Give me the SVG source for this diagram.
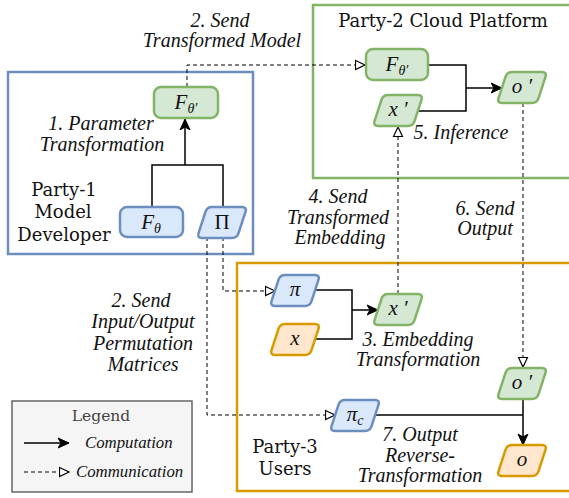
<svg xmlns="http://www.w3.org/2000/svg" xmlns:xlink="http://www.w3.org/1999/xlink" width="569" height="498" viewBox="0 0 569 498">
<style>
.title{font-family:"DejaVu Serif","Liberation Serif",serif;font-size:18px;fill:#111;text-anchor:middle}
.lbl{font-family:"Liberation Serif",serif;font-size:20px;font-style:italic;fill:#111;text-anchor:middle}
.math{font-family:"Liberation Serif",serif;font-size:21px;font-style:italic;fill:#111;text-anchor:middle}
.sub{font-size:14px}
.blue{fill:#dae8fc;stroke:#6c8ebf;stroke-width:2.5}
.green{fill:#d5e8d4;stroke:#82b366;stroke-width:2.5}
.orange{fill:#ffe6cc;stroke:#d79b00;stroke-width:2.5}
.solid{fill:none;stroke:#000;stroke-width:1.5}
.dash{fill:none;stroke:#000;stroke-width:1;stroke-dasharray:4 3}
.legtxt{font-family:"Liberation Serif",serif;font-size:16.8px;font-style:italic;fill:#111}
</style>
<defs>
<path id="para" d="M15,0 L45,0 Q50,0 48.46,4.76 L41.54,26.24 Q40,31 35,31 L5,31 Q0,31 1.54,26.24 L8.46,4.76 Q10,0 15,0 Z"/>
<marker id="arr" markerUnits="userSpaceOnUse" markerWidth="12" markerHeight="12" refX="11" refY="6" orient="auto" viewBox="0 0 12 12">
<path d="M0,1 L11,6 L0,11 L3,6 Z" fill="#000" stroke="#000" stroke-width="1"/>
</marker>
<marker id="open" markerUnits="userSpaceOnUse" markerWidth="12" markerHeight="12" refX="10.5" refY="6" orient="auto" viewBox="0 0 12 12">
<path d="M1,1.5 L10.5,6 L1,10.5 Z" fill="#fff" stroke="#000" stroke-width="1.2"/>
</marker>
</defs>
<rect width="569" height="498" fill="#fff"/>

<!-- containers -->
<g id="party1">
<rect x="8" y="72" width="245" height="182" fill="none" stroke="#6c8ebf" stroke-width="2.5"/>
<text class="title" x="64" y="196">Party-1</text>
<text class="title" x="63" y="218">Model</text>
<text class="title" x="64" y="241">Developer</text>
</g>
<g id="party2">
<rect x="313" y="5" width="262" height="173" fill="none" stroke="#82b366" stroke-width="2.5"/>
<text class="title" x="443" y="27">Party-2 Cloud Platform</text>
</g>
<g id="party3">
<rect x="237" y="263" width="340" height="228" fill="none" stroke="#d79b00" stroke-width="2.5"/>
<text class="title" x="285" y="453">Party-3</text>
<text class="title" x="285" y="475">Users</text>
</g>

<!-- connectors -->
<g id="connectors">
<path class="solid" d="M152,207 V165 H223 V207"/>
<path class="solid" d="M185,165 V119" marker-end="url(#arr)"/>
<path class="dash" d="M187,87 V65 H365" marker-end="url(#open)"/>
<path class="solid" d="M428,65 H466 V111 H418"/>
<path class="solid" d="M466,88 H502" marker-end="url(#arr)"/>
<path class="dash" d="M398,294 V127" marker-end="url(#open)"/>
<path class="dash" d="M523,103 V367" marker-end="url(#open)"/>
<path class="dash" d="M207,237 V415 H335" marker-end="url(#open)"/>
<path class="dash" d="M223,237 V291 H275" marker-end="url(#open)"/>
<path class="solid" d="M315,290 H352 V339 H315"/>
<path class="solid" d="M352,310 H378" marker-end="url(#arr)"/>
<path class="solid" d="M375,415 H523"/>
<path class="solid" d="M523,399 V445" marker-end="url(#arr)"/>
</g>

<!-- connector labels -->
<g id="labels">
<text class="lbl" x="220" y="27">2. Send</text>
<text class="lbl" x="222" y="47">Transformed Model</text>
<text class="lbl" x="101" y="130">1. Parameter</text>
<text class="lbl" x="102" y="151">Transformation</text>
<text class="lbl" x="461" y="139">5. Inference</text>
<text class="lbl" x="338" y="203">4. Send</text>
<text class="lbl" x="338" y="224">Transformed</text>
<text class="lbl" x="340" y="244">Embedding</text>
<text class="lbl" x="485" y="215">6. Send</text>
<text class="lbl" x="485" y="235">Output</text>
<text class="lbl" x="141" y="307">2. Send</text>
<text class="lbl" x="143" y="328">Input/Output</text>
<text class="lbl" x="143" y="350">Permutation</text>
<text class="lbl" x="143" y="371">Matrices</text>
<text class="lbl" x="418" y="346">3. Embedding</text>
<text class="lbl" x="418" y="366">Transformation</text>
<text class="lbl" x="420" y="441">7. Output</text>
<text class="lbl" x="420" y="462">Reverse-</text>
<text class="lbl" x="420" y="482">Transformation</text>
</g>

<!-- nodes -->
<g id="n-F1p">
<rect class="green" x="154" y="87" width="64" height="31" rx="7"/>
<text class="math" x="186" y="109">F<tspan class="sub" dy="4">θ′</tspan></text>
</g>
<g id="n-F">
<rect class="blue" x="120" y="207" width="63" height="30" rx="7"/>
<text class="math" x="151" y="229">F<tspan class="sub" dy="4">θ</tspan></text>
</g>
<g id="n-Pi">
<use href="#para" x="197" y="207" class="blue"/>
<text class="math" x="222" y="229" style="font-style:normal">Π</text>
</g>
<g id="n-F2p">
<rect class="green" x="366" y="49" width="62" height="31" rx="7"/>
<text class="math" x="397" y="71">F<tspan class="sub" dy="4">θ′</tspan></text>
</g>
<g id="n-x2p">
<use href="#para" x="373" y="95" class="green"/>
<text class="math" x="398" y="116">x ′</text>
</g>
<g id="n-o2p">
<use href="#para" x="497" y="72" class="green"/>
<text class="math" x="522" y="93">o ′</text>
</g>
<g id="n-pi">
<use href="#para" x="270" y="275" class="blue"/>
<text class="math" x="295" y="296">π</text>
</g>
<g id="n-x">
<use href="#para" x="270" y="324" class="orange"/>
<text class="math" x="295" y="345">x</text>
</g>
<g id="n-x3p">
<use href="#para" x="373" y="294" class="green"/>
<text class="math" x="398" y="315">x ′</text>
</g>
<g id="n-o3p">
<use href="#para" x="497" y="368" class="green"/>
<text class="math" x="522" y="389">o ′</text>
</g>
<g id="n-pic">
<use href="#para" x="330" y="400" class="blue"/>
<text class="math" x="355" y="421">π<tspan class="sub" dy="4">c</tspan></text>
</g>
<g id="n-o">
<use href="#para" x="497" y="445" class="orange"/>
<text class="math" x="522" y="466">o</text>
</g>

<!-- legend -->
<g id="legend">
<rect x="12" y="401" width="180" height="91" fill="#f5f5f5" stroke="#666" stroke-width="1.5"/>
<text x="101" y="421" style="font-family:'DejaVu Serif','Liberation Serif',serif;font-size:15.5px;fill:#444;text-anchor:middle">Legend</text>
<path class="solid" d="M24,443 H69" marker-end="url(#arr)"/>
<text class="legtxt" x="85" y="448">Computation</text>
<path class="dash" d="M24,472 H69" marker-end="url(#open)"/>
<text class="legtxt" x="76" y="477">Communication</text>
</g>
</svg>
